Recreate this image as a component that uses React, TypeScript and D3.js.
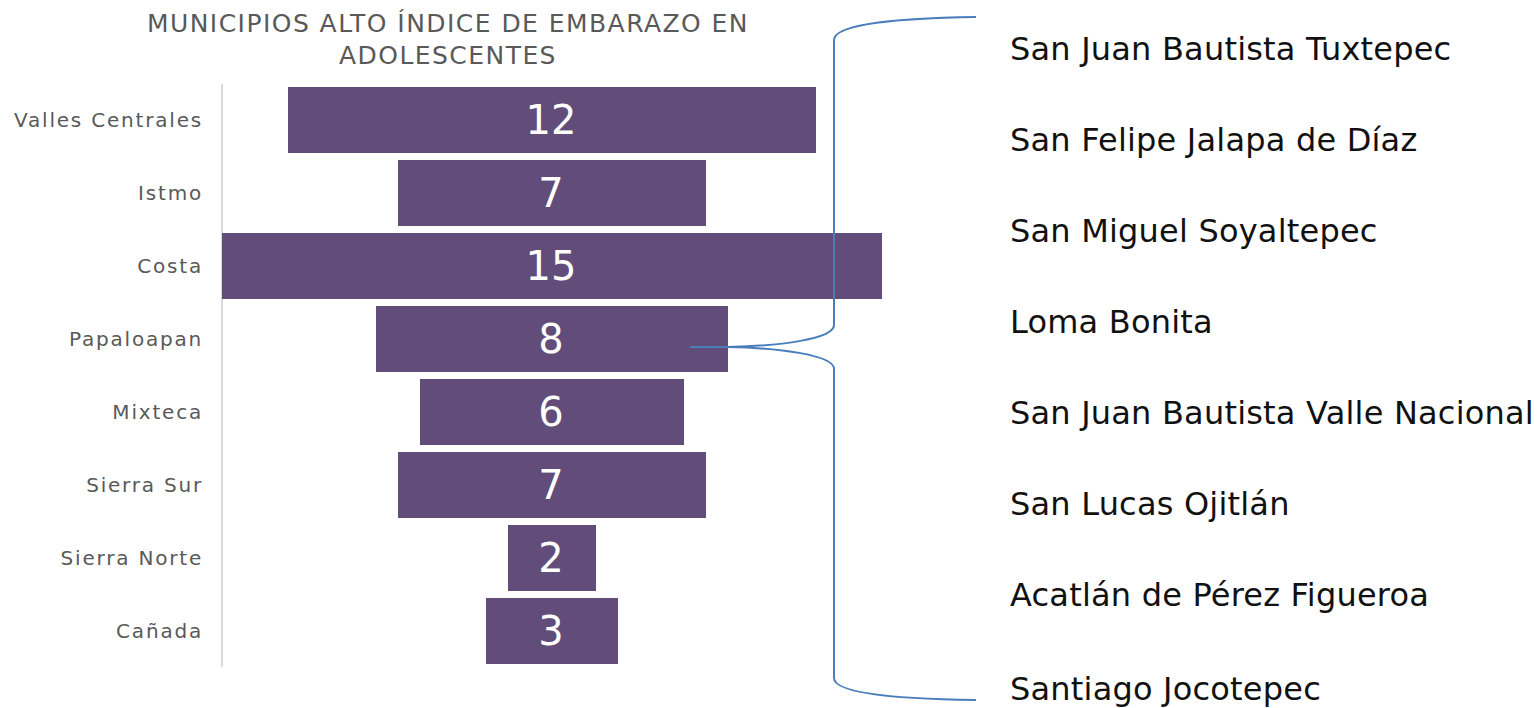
import React from "react";
import * as d3 from "d3";

const categories = ["Valles Centrales", "Istmo", "Costa", "Papaloapan", "Mixteca", "Sierra Sur", "Sierra Norte", "Cañada"];
const values = [12, 7, 15, 8, 6, 7, 2, 3];
const municipios = [
  "San Juan Bautista Tuxtepec",
  "San Felipe Jalapa de Díaz",
  "San Miguel Soyaltepec",
  "Loma Bonita",
  "San Juan Bautista Valle Nacional",
  "San Lucas Ojitlán",
  "Acatlán de Pérez Figueroa",
  "Santiago Jocotepec",
];
const titleLines = ["MUNICIPIOS ALTO ÍNDICE DE EMBARAZO EN", "ADOLESCENTES"];

const W = 1537;
const H = 708;
const FONT = "'DejaVu Sans', sans-serif";
const BAR = "#614C7A";
const BRACE = "#4A7EBB";

export default function App() {
  const y = d3.scaleBand<string>().domain(categories).range([83.5, 667.5]).paddingInner(0.096).paddingOuter(0.048);
  const w = d3.scaleLinear().domain([0, 15]).range([0, 660]);
  const cx = 552;
  const axisX = 222;

  const my = d3.scalePoint<number>().domain(d3.range(municipios.length)).range([60, 697]);

  const tipY = (y("Papaloapan") as number) + y.bandwidth() / 2 + 8;
  const tipX = cx + w(8) / 2;
  const bx = 834;
  const p = d3.path();
  p.moveTo(976, 17);
  p.bezierCurveTo(900, 18, bx, 24, bx, 40);
  p.lineTo(bx, tipY - 22);
  p.bezierCurveTo(bx, tipY - 8, 780, tipY - 1, tipX, tipY);
  p.lineTo(690, tipY);
  p.moveTo(tipX, tipY);
  p.bezierCurveTo(780, tipY + 1, bx, tipY + 8, bx, tipY + 22);
  p.lineTo(bx, 678);
  p.bezierCurveTo(bx, 694, 900, 699, 976, 700);

  return (
    <svg width={W} height={H} style={{ position: "absolute", left: 0, top: 0, background: "#fff" }}>
      {titleLines.map((t, i) => (
        <text key={t} x={448} y={32 + i * 32} textAnchor="middle" fontFamily={FONT} fontSize={25} letterSpacing={1.45} fill="#595959">
          {t}
        </text>
      ))}
      <line x1={axisX} x2={axisX} y1={84} y2={667} stroke="#D9D9D9" strokeWidth={2} />
      {categories.map((c, i) => {
        const bw = w(values[i]);
        const yy = y(c) as number;
        return (
          <g key={c}>
            <rect x={cx - bw / 2} y={yy} width={bw} height={y.bandwidth()} fill={BAR} />
            <text x={cx - 1} y={yy + y.bandwidth() / 2 + 14} textAnchor="middle" fontFamily={FONT} fontSize={40} fill="#fff">
              {values[i]}
            </text>
            <text x={203} y={yy + y.bandwidth() / 2 + 7} textAnchor="end" fontFamily={FONT} fontSize={20} letterSpacing={1.8} fill="#595959">
              {c}
            </text>
          </g>
        );
      })}
      <path d={p.toString()} fill="none" stroke={BRACE} strokeWidth={2} />
      {municipios.map((m, i) => (
        <text key={m} x={1010} y={(my(i) as number) + (i === municipios.length - 1 ? 3 : 0)} fontFamily={FONT} fontSize={32} letterSpacing={0.2} fill="#111">
          {m}
        </text>
      ))}
    </svg>
  );
}
